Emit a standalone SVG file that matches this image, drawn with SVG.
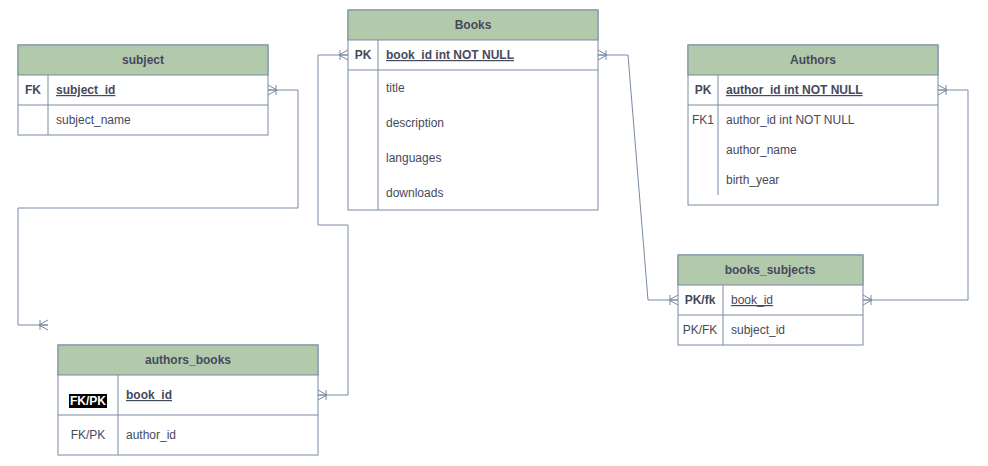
<svg xmlns="http://www.w3.org/2000/svg" width="988" height="466" viewBox="0 0 988 466">
<defs>
<style>
.tb{fill:#ffffff;stroke:#788AA3;stroke-width:1}
.hd{fill:#B2C9AB;stroke:#788AA3;stroke-width:1}
.ln{stroke:#788AA3;stroke-width:1;fill:none}
text{font-family:"Liberation Sans",Arial,sans-serif;font-size:12px;fill:#46495D}
.h{font-weight:bold;text-anchor:middle}
.c{text-anchor:middle}
.b{font-weight:bold}
.u{text-decoration:underline}
.con{stroke:#788AA3;stroke-width:1;fill:none;marker-start:url(#erm);marker-end:url(#erm)}
</style>
<marker id="erm" viewBox="0 0 12 12" markerWidth="12" markerHeight="12" refX="10" refY="6" orient="auto-start-reverse" markerUnits="userSpaceOnUse" overflow="visible">
<path d="M10,1 L1,6 L10,11 M1,6 H10 M2,1 V11" fill="none" stroke="#788AA3" stroke-width="1"/>
</marker>
</defs>
<rect width="988" height="466" fill="#ffffff"/>

<g id="connectors">
<path class="con" d="M268,90 H298 V208 H18 V325 H48"/>
<path class="con" d="M348,55 H318 V225 H348 V395 H318"/>
<path class="con" d="M598,55 H628 L648,300 H678"/>
<path class="con" d="M938,90 H968 V300 H863"/>
</g>

<g id="subject">
<rect class="tb" x="18" y="45" width="250" height="90"/>
<rect class="hd" x="18" y="45" width="250" height="30"/>
<text class="h" x="143" y="64">subject</text>
<line class="ln" x1="18" y1="105" x2="268" y2="105"/>
<line class="ln" x1="48" y1="75" x2="48" y2="135"/>
<text class="b c" x="33" y="94">FK</text>
<text class="b u" x="56" y="94">subject_id</text>
<text x="56" y="124">subject_name</text>
</g>

<g id="books">
<rect class="tb" x="348" y="10" width="250" height="200"/>
<rect class="hd" x="348" y="10" width="250" height="30"/>
<text class="h" x="473" y="29">Books</text>
<line class="ln" x1="348" y1="70" x2="598" y2="70"/>
<line class="ln" x1="378" y1="40" x2="378" y2="210"/>
<text class="b c" x="363" y="59">PK</text>
<text class="b u" x="386" y="59">book_id int NOT NULL</text>
<text x="386" y="92">title</text>
<text x="386" y="127">description</text>
<text x="386" y="162">languages</text>
<text x="386" y="197">downloads</text>
</g>

<g id="authors">
<rect class="tb" x="688" y="45" width="250" height="160"/>
<rect class="hd" x="688" y="45" width="250" height="30"/>
<text class="h" x="813" y="64">Authors</text>
<line class="ln" x1="688" y1="105" x2="938" y2="105"/>
<line class="ln" x1="718" y1="75" x2="718" y2="195"/>
<text class="b c" x="703" y="94">PK</text>
<text class="b u" x="726" y="94">author_id int NOT NULL</text>
<text class="c" x="703" y="124">FK1</text>
<text x="726" y="124">author_id int NOT NULL</text>
<text x="726" y="154">author_name</text>
<text x="726" y="184">birth_year</text>
</g>

<g id="books_subjects">
<rect class="tb" x="678" y="255" width="185" height="90"/>
<rect class="hd" x="678" y="255" width="185" height="30"/>
<text class="h" x="770" y="274">books_subjects</text>
<line class="ln" x1="678" y1="315" x2="863" y2="315"/>
<line class="ln" x1="723" y1="285" x2="723" y2="345"/>
<text class="b c" x="700" y="304">PK/fk</text>
<text class="u" x="731" y="304">book_id</text>
<text class="c" x="700" y="334">PK/FK</text>
<text x="731" y="334">subject_id</text>
</g>

<g id="authors_books">
<rect class="tb" x="58" y="345" width="260" height="110"/>
<rect class="hd" x="58" y="345" width="260" height="30"/>
<text class="h" x="188" y="364">authors_books</text>
<line class="ln" x1="58" y1="415" x2="318" y2="415"/>
<line class="ln" x1="118" y1="375" x2="118" y2="455"/>
<rect x="69" y="394" width="38" height="14" fill="#000000"/>
<text class="b c" x="88" y="405" style="fill:#ffffff">FK/PK</text>
<text class="b u" x="126" y="399">book_id</text>
<text class="c" x="88" y="439">FK/PK</text>
<text x="126" y="439">author_id</text>
</g>
</svg>
